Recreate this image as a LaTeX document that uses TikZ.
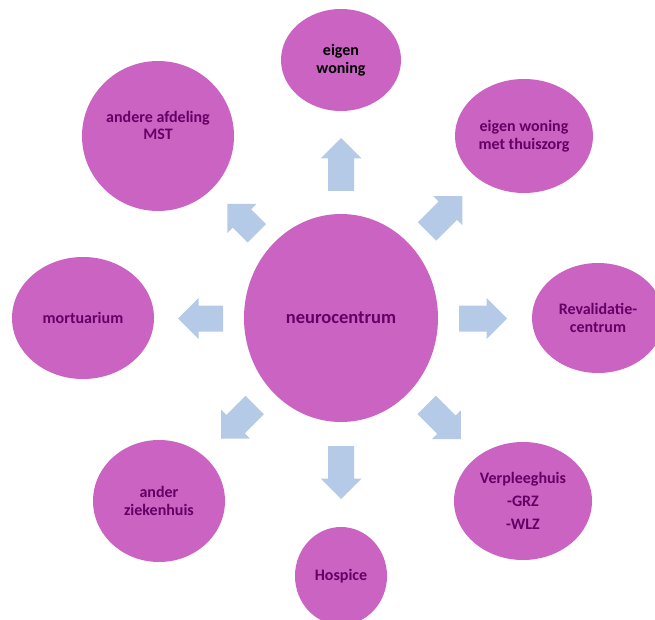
\documentclass[tikz,border=0pt]{standalone}
\usepackage{fontspec}
\setmainfont{Carlito}
\usetikzlibrary{shapes.geometric}
\definecolor{bubblefill}{RGB}{203,99,195}
\definecolor{bubbletext}{RGB}{100,0,100}
\definecolor{arrowfill}{RGB}{181,202,230}
\tikzset{
  bubble/.style={ellipse, fill=bubblefill, draw=none, inner sep=-12pt, align=center,
    text=bubbletext, font=\bfseries\fontsize{16}{17.5}\selectfont},
  blockarrow/.style={fill=arrowfill, draw=none}
}
% block arrow: name, tail point, angle (counter-clockwise on the page), length
\newcommand\blockarr[4]{%
  \coordinate (#1) at (#2);
  \fill[blockarrow, shift={(#1)}, rotate=#3]
    (0,-13) -- ({#4-20.5},-13) -- ({#4-20.5},-20.5) -- (#4,0)
    -- ({#4-20.5},20.5) -- ({#4-20.5},13) -- (0,13) -- cycle;}
\begin{document}
\begin{tikzpicture}[x=1pt,y=-1pt]
\useasboundingbox (0,0) rectangle (655,620);
\clip (0,0) rectangle (655,620);
\fill[white] (0,0) rectangle (655,620);
% bubbles
\node[bubble, minimum width=194pt, minimum height=208pt, font=\bfseries\fontsize{18.5}{20}\selectfont] (neuro) at (341,318) {neurocentrum};
\node[bubble, minimum width=120pt, minimum height=102pt, text=black] (eigen) at (341,60) {eigen\\woning};
\node[bubble, minimum width=138pt, minimum height=114pt] (thuis) at (524,136) {eigen woning\\met thuiszorg};
\node[bubble, minimum width=132pt, minimum height=110pt] (reval) at (598,318) {Revalidatie-\\centrum};
\node[bubble, minimum width=138pt, minimum height=118pt, font=\bfseries\fontsize{16}{23}\selectfont] (verpl) at (523,501) {Verpleeghuis\\-GRZ\\-WLZ};
\node[bubble, minimum width=92pt, minimum height=98pt] (hosp) at (341,576) {Hospice};
\node[bubble, minimum width=132pt, minimum height=122pt] (ziek) at (159,501) {ander\\ziekenhuis};
\node[bubble, minimum width=142pt, minimum height=122pt] (mort) at (83,318) {mortuarium};
\node[bubble, minimum width=152pt, minimum height=150pt] (mst) at (158,136) {};
\node[align=center, text=bubbletext, font=\bfseries\fontsize{16}{17}\selectfont] (mstlabel) at (158,125) {andere afdeling\\MST};
% block arrows
\blockarr{aup}{341,191}{90}{53}
\blockarr{adown}{341,446}{-90}{53}
\blockarr{aleft}{223,318.5}{180}{45}
\blockarr{aright}{459,318.5}{0}{48}
\blockarr{aur}{427,231.5}{45}{50}
\blockarr{aul}{256.7,233.3}{135}{41.5}
\blockarr{all}{254.7,405}{-135}{47.6}
\blockarr{alr}{426.7,405}{-45}{48.3}
\end{tikzpicture}
\end{document}
